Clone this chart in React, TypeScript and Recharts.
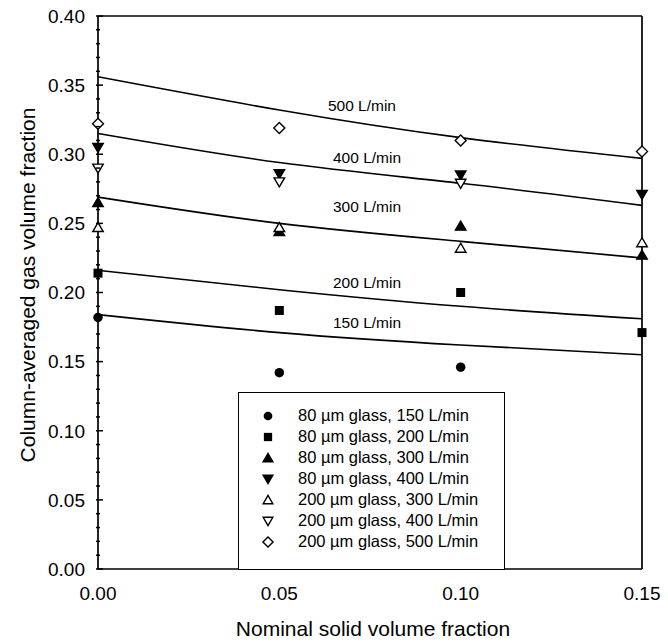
import React from 'react';
import {
  ComposedChart,
  Line,
  Scatter,
  XAxis,
  YAxis,
  ReferenceDot,
} from 'recharts';

const solidFraction = [0, 0.05, 0.1, 0.15];

// measured gas holdup
const glass80_150 = [0.182, 0.142, 0.146, null];
const glass80_200 = [0.214, 0.187, 0.2, 0.171];
const glass80_300 = [0.265, 0.244, 0.248, 0.227];
const glass80_400 = [0.305, 0.286, 0.285, 0.271];
const glass200_300 = [0.247, 0.247, 0.232, 0.236];
const glass200_400 = [0.29, 0.28, 0.279, null];
const glass200_500 = [0.322, 0.319, 0.31, 0.302];

// model curves
const model150 = [0.184, 0.171, 0.162, 0.155];
const model200 = [0.216, 0.202, 0.19, 0.181];
const model300 = [0.269, 0.25, 0.237, 0.225];
const model400 = [0.315, 0.294, 0.279, 0.263];
const model500 = [0.356, 0.332, 0.312, 0.297];

const curveNames = ['500 L/min', '400 L/min', '300 L/min', '200 L/min', '150 L/min'];
const curveLabelX = [0.0634, 0.0648, 0.0648, 0.0648, 0.0648];
const curveLabelY = [0.335, 0.298, 0.262, 0.207, 0.178];

const xTicks = [0, 0.05, 0.1, 0.15];
const yTicks = Array.from({ length: 41 }, (_, i) => i / 100);

const FONT = '"Liberation Sans", Arial, Helvetica, sans-serif';
const AXIS = { stroke: '#000', strokeWidth: 1.7 };

type Kind = 'circle' | 'square' | 'up' | 'down' | 'upOpen' | 'downOpen' | 'diamond';

const series: { name: string; kind: Kind; values: (number | null)[] }[] = [
  { name: '80 \u00b5m glass, 150 L/min', kind: 'circle', values: glass80_150 },
  { name: '80 \u00b5m glass, 200 L/min', kind: 'square', values: glass80_200 },
  { name: '80 \u00b5m glass, 300 L/min', kind: 'up', values: glass80_300 },
  { name: '80 \u00b5m glass, 400 L/min', kind: 'down', values: glass80_400 },
  { name: '200 \u00b5m glass, 300 L/min', kind: 'upOpen', values: glass200_300 },
  { name: '200 \u00b5m glass, 400 L/min', kind: 'downOpen', values: glass200_400 },
  { name: '200 \u00b5m glass, 500 L/min', kind: 'diamond', values: glass200_500 },
];

const curves = [model500, model400, model300, model200, model150];

const toPoints = (vals: (number | null)[]) =>
  solidFraction
    .map((x, i) => ({ x, y: vals[i] }))
    .filter((p) => p.y !== null);

function markerPath(kind: Kind, cx: number, cy: number, s: number) {
  const h = s;
  switch (kind) {
    case 'circle':
      return <circle cx={cx} cy={cy} r={h * 0.95} fill="#000" />;
    case 'square':
      return <rect x={cx - h * 0.9} y={cy - h * 0.9} width={h * 1.8} height={h * 1.8} fill="#000" />;
    case 'up':
    case 'upOpen':
      return (
        <polygon
          points={`${cx},${cy - h} ${cx - h * 1.05},${cy + h * 0.8} ${cx + h * 1.05},${cy + h * 0.8}`}
          fill={kind === 'up' ? '#000' : '#fff'}
          stroke="#000"
          strokeWidth={1.4}
        />
      );
    case 'down':
    case 'downOpen':
      return (
        <polygon
          points={`${cx},${cy + h} ${cx - h * 1.05},${cy - h * 0.8} ${cx + h * 1.05},${cy - h * 0.8}`}
          fill={kind === 'down' ? '#000' : '#fff'}
          stroke="#000"
          strokeWidth={1.4}
        />
      );
    case 'diamond':
      return (
        <polygon
          points={`${cx},${cy - h * 1.1} ${cx + h * 1.1},${cy} ${cx},${cy + h * 1.1} ${cx - h * 1.1},${cy}`}
          fill="#fff"
          stroke="#000"
          strokeWidth={1.4}
        />
      );
  }
}

const isMajor = (v: number) => Math.round(v * 100) % 5 === 0;

const LeftTick = (props: any) => {
  const { x, y, payload } = props;
  const v = payload.value as number;
  return (
    <g>
      <line x1={x} x2={x + (isMajor(v) ? 7 : 4)} y1={y} y2={y} stroke="#000" strokeWidth={1.5} />
      {isMajor(v) && (
        <text x={x - 11} y={y} dy="0.36em" textAnchor="end" fontSize={19} fontFamily={FONT} fill="#000">
          {v.toFixed(2)}
        </text>
      )}
    </g>
  );
};

const RightTick = (props: any) => {
  const { x, y, payload } = props;
  const v = payload.value as number;
  return <line x1={x} x2={x - (isMajor(v) ? 7 : 4)} y1={y} y2={y} stroke="#000" strokeWidth={1.5} />;
};

const BottomTick = (props: any) => {
  const { x, y, payload } = props;
  return (
    <text x={x} y={y + 22} textAnchor="middle" dy="0.36em" fontSize={19} fontFamily={FONT} fill="#000">
      {(payload.value as number).toFixed(2)}
    </text>
  );
};

const TopTick = (props: any) => {
  const { x, y } = props;
  return <line x1={x} x2={x} y1={y} y2={y + 6} stroke="#000" strokeWidth={1.5} />;
};

function LegendBox() {
  return (
    <div
      style={{
        position: 'absolute',
        left: 238,
        top: 392,
        width: 267,
        height: 178,
        boxSizing: 'border-box',
        border: '1.5px solid #000',
        background: '#fff',
        paddingTop: 12,
        fontFamily: FONT,
        fontSize: 16.5,
        color: '#000',
      }}
    >
      {series.map((s) => (
        <div key={s.name} style={{ display: 'flex', alignItems: 'center', height: 21 }}>
          <svg width={16} height={16} style={{ marginLeft: 21, marginRight: 22 }}>
            {markerPath(s.kind, 8, 8, 4.6)}
          </svg>
          <span style={{ whiteSpace: 'nowrap' }}>{s.name}</span>
        </div>
      ))}
    </div>
  );
}

export default function App() {
  return (
    <div style={{ position: 'absolute', left: 0, top: 0, width: 668, height: 643 }}>
      <ComposedChart width={668} height={643} margin={{ top: 15, right: 25, bottom: 14, left: 0 }}>
        <XAxis
          dataKey="x"
          type="number"
          domain={[0, 0.15]}
          ticks={xTicks}
          interval={0}
          height={60}
          tickSize={0}
          tick={<BottomTick />}
          axisLine={AXIS}
        />
        <XAxis
          xAxisId="top"
          dataKey="x"
          type="number"
          orientation="top"
          domain={[0, 0.15]}
          ticks={[0.1]}
          height={1}
          tickSize={0}
          tick={<TopTick />}
          axisLine={AXIS}
        />
        <YAxis
          type="number"
          domain={[0, 0.4]}
          ticks={yTicks}
          interval={0}
          width={98}
          tickSize={0}
          tick={<LeftTick />}
          axisLine={AXIS}
        />
        <YAxis
          yAxisId="right"
          orientation="right"
          type="number"
          domain={[0, 0.4]}
          ticks={yTicks}
          interval={0}
          width={1}
          tickSize={0}
          tick={<RightTick />}
          axisLine={AXIS}
        />
        {curves.map((c, i) => (
          <Line
            key={curveNames[i]}
            data={toPoints(c)}
            dataKey="y"
            type="natural"
            stroke="#000"
            strokeWidth={1.6}
            dot={false}
            activeDot={false}
            isAnimationActive={false}
          />
        ))}
        {series.map((s) => (
          <Scatter
            key={s.name}
            name={s.name}
            data={toPoints(s.values)}
            dataKey="y"
            isAnimationActive={false}
            shape={(p: any) => markerPath(s.kind, p.cx, p.cy, 5)}
          />
        ))}
        {curveNames.map((n, i) => (
          <ReferenceDot
            key={n}
            x={curveLabelX[i]}
            y={curveLabelY[i]}
            r={0}
            shape={(p: any) => (
              <text x={p.cx} y={p.cy} dy="0.36em" fontSize={15.5} fontFamily={FONT} fill="#000">
                {n}
              </text>
            )}
          />
        ))}
        <text x={373} y={628} textAnchor="middle" dy="0.36em" fontSize={21} fontFamily={FONT} fill="#000">
          Nominal solid volume fraction
        </text>
        <text
          x={27}
          y={285}
          textAnchor="middle"
          dy="0.36em"
          fontSize={21}
          fontFamily={FONT}
          fill="#000"
          transform="rotate(-90 27 285)"
        >
          Column-averaged gas volume fraction
        </text>
      </ComposedChart>
      <LegendBox />
    </div>
  );
}
